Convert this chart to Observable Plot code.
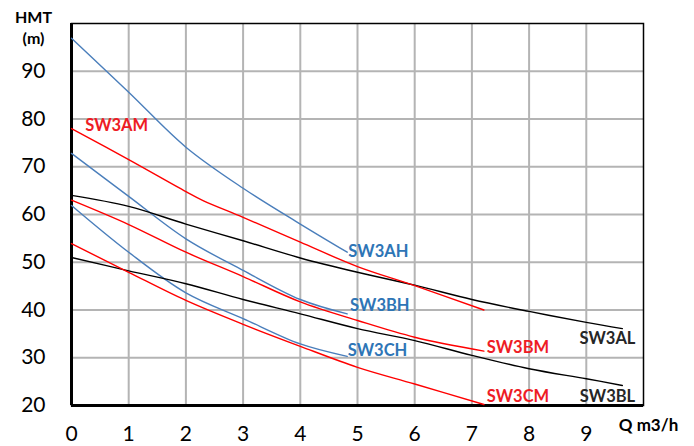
<!DOCTYPE html>
<html>
<head>
<meta charset="utf-8">
<script src="https://cdn.jsdelivr.net/npm/d3@7"></script>
<script src="https://cdn.jsdelivr.net/npm/@observablehq/plot@0.6"></script>
<style>
  html, body { margin: 0; padding: 0; background: #fff; }
  #chart svg { display: block; }
</style>
</head>
<body>
<div id="chart"></div>
<script>
// Tick labels
const xTicks = [0, 1, 2, 3, 4, 5, 6, 7, 8, 9];
const yTicks = [20, 30, 40, 50, 60, 70, 80, 90];
const xGrid = [1, 2, 3, 4, 5, 6, 7, 8, 9];
const yGrid = [30, 40, 50, 60, 70, 80, 90];

// Series (Q m3/h, HMT m)
const q_AH = [0, 1, 2, 3, 4, 4.82];
const h_AH = [96.9, 85.6, 74.1, 65.5, 58.0, 52.1];
const q_BH = [0, 1, 2, 3, 4, 4.82];
const h_BH = [72.8, 63.8, 54.9, 48.3, 42.2, 39.2];
const q_CH = [0, 1, 2, 3, 4, 4.82];
const h_CH = [61.9, 52.1, 43.6, 38.2, 32.9, 30.3];

const q_AM = [0, 1, 2, 2.3, 3, 4, 5, 6, 7.21];
const h_AM = [78.0, 71.5, 64.8, 62.9, 59.4, 54.2, 49.1, 45.1, 40.0];
const q_BM = [0, 1, 2, 3, 4, 5, 6, 7.21];
const h_BM = [63.0, 57.9, 52.1, 47.0, 41.7, 37.8, 34.3, 31.4];
const q_CM = [0, 1, 2, 3, 4, 5, 6, 7.21];
const h_CM = [53.9, 47.9, 42.0, 37.0, 32.4, 28.0, 24.5, 20.2];

const q_AL = [0, 1, 2, 3, 4, 5, 6, 7, 8, 9, 9.63];
const h_AL = [64.0, 61.7, 58.0, 54.5, 50.9, 47.9, 45.2, 42.2, 39.7, 37.4, 36.1];
const q_BL = [0, 1, 2, 3, 4, 5, 6, 7, 8, 9, 9.63];
const h_BL = [51.0, 48.2, 45.5, 42.2, 39.2, 36.1, 33.6, 30.5, 27.7, 25.6, 24.2];

// Curve labels
const labelNames = ["SW3AM", "SW3AH", "SW3BH", "SW3CH", "SW3BM", "SW3CM", "SW3AL", "SW3BL"];
const labelQ =     [0.24,    4.84,    4.87,    4.83,    7.26,    7.26,    9.37,    9.37];
const labelH =     [78.5,    52.2,    40.8,    31.5,    32.0,    21.8,    34.0,    21.9];
const labelFamily = ["M", "H", "H", "H", "M", "M", "L", "L"];

const series = (name, family, qs, hs) => qs.map((q, i) => ({series: name, family, q, h: hs[i]}));

const dataH = [...series("SW3AH", "H", q_AH, h_AH), ...series("SW3BH", "H", q_BH, h_BH), ...series("SW3CH", "H", q_CH, h_CH)];
const dataM = [...series("SW3AM", "M", q_AM, h_AM), ...series("SW3BM", "M", q_BM, h_BM), ...series("SW3CM", "M", q_CM, h_CM)];
const dataL = [...series("SW3AL", "L", q_AL, h_AL), ...series("SW3BL", "L", q_BL, h_BL)];

const labels = labelNames.map((n, i) => ({name: n, q: labelQ[i], h: labelH[i], family: labelFamily[i]}));

const lineColor = {H: "#4A7EBB", M: "#FF0000", L: "#000000"};
const textColor = {H: "#2E75B6", M: "#EE1C25", L: "#262626"};

const FONT = "Lato, 'Open Sans', sans-serif";

const chart = Plot.plot({
  width: 694,
  height: 446,
  marginLeft: 71,
  marginRight: 51,
  marginTop: 23,
  marginBottom: 41,
  style: {fontFamily: FONT, background: "#fff", color: "#000"},
  x: {domain: [0, 10], ticks: xTicks, label: null},
  y: {domain: [20, 100], ticks: yTicks, label: null},
  marks: [
    Plot.gridX(xGrid, {stroke: "#B4B4B4", strokeOpacity: 1, strokeWidth: 2}),
    Plot.gridY(yGrid, {stroke: "#B4B4B4", strokeOpacity: 1, strokeWidth: 2}),
    Plot.frame({stroke: "#000", strokeWidth: 1.5}),
    Plot.ruleX([0], {stroke: "#000", strokeWidth: 3}),
    Plot.ruleY([20], {stroke: "#000", strokeWidth: 3}),
    Plot.axisX(xTicks, {tickSize: 0, tickPadding: 21, fontSize: 21, label: null, fill: "#000"}),
    Plot.axisY(yTicks, {tickSize: 0, tickPadding: 26, fontSize: 21, label: null, fill: "#000"}),
    Plot.line(dataH, {x: "q", y: "h", z: "series", stroke: lineColor.H, strokeWidth: 1.4, curve: "catmull-rom"}),
    Plot.line(dataL, {x: "q", y: "h", z: "series", stroke: lineColor.L, strokeWidth: 1.4, curve: "catmull-rom"}),
    Plot.line(dataM, {x: "q", y: "h", z: "series", stroke: lineColor.M, strokeWidth: 1.4, curve: "catmull-rom"}),
    Plot.text(labels.filter(d => d.family !== "L"), {
      x: "q", y: "h", text: "name", textAnchor: "start",
      fill: d => textColor[d.family], fontWeight: "bold", fontSize: 16.5
    }),
    Plot.text(labels.filter(d => d.family === "L"), {
      x: "q", y: "h", text: "name", textAnchor: "middle",
      fill: textColor.L, fontWeight: "bold", fontSize: 16.5
    }),
    Plot.text(["HMT\n(m)"], {
      frameAnchor: "top-left", dx: -38, dy: 3, textAnchor: "middle", lineAnchor: "middle",
      lineHeight: 1.3, fontWeight: "bold", fontSize: 16, fill: "#000"
    }),
    Plot.text(["Q m3/h"], {
      frameAnchor: "bottom-right", dx: 5, dy: 25, textAnchor: "middle",
      fontWeight: "bold", fontSize: 17, fill: "#000"
    })
  ]
});

document.getElementById("chart").appendChild(chart);
</script>
</body>
</html>
